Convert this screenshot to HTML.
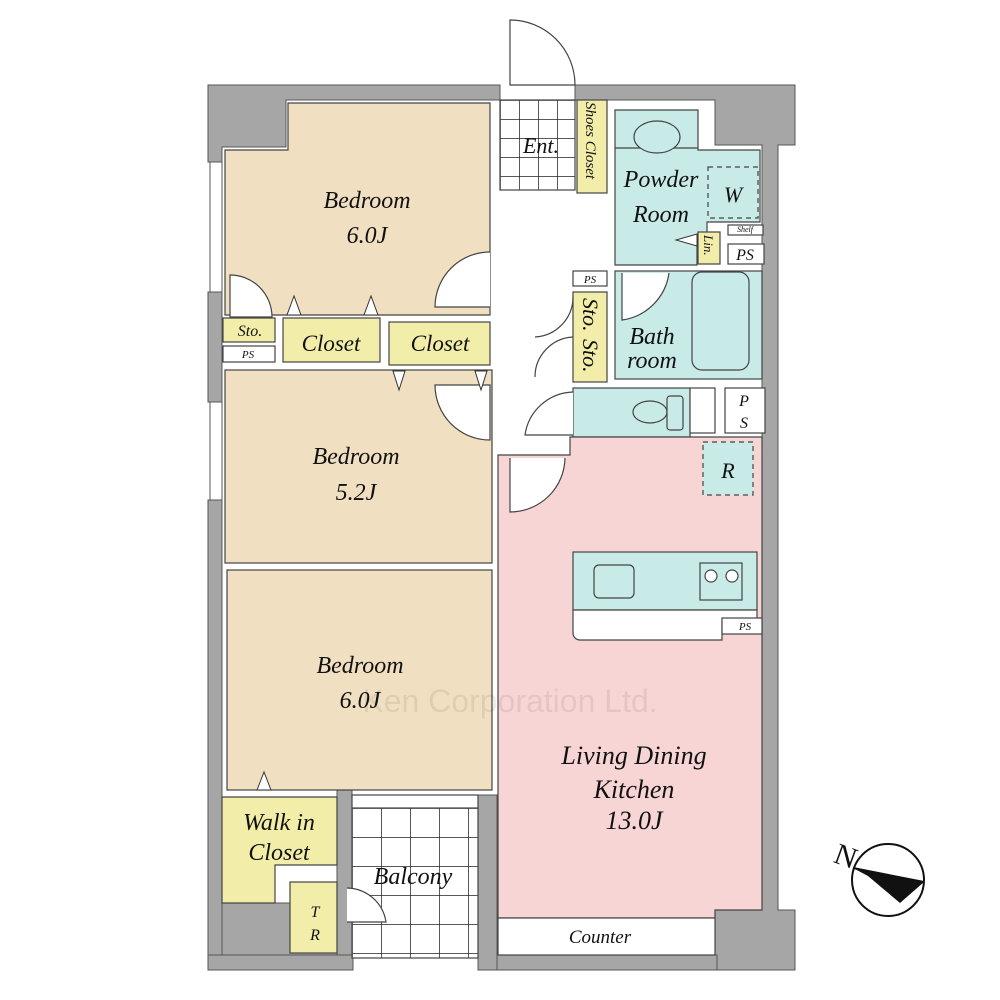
<!DOCTYPE html>
<html><head><meta charset="utf-8"><style>
html,body{margin:0;padding:0;background:#fff;}
svg{display:block}
text{font-family:"Liberation Serif",serif;font-style:italic;fill:#111;}
</style></head><body>
<svg width="1000" height="1000" viewBox="0 0 1000 1000" xmlns="http://www.w3.org/2000/svg">
<defs>
<pattern id="grid" width="29" height="29" patternUnits="userSpaceOnUse" x="352" y="808">
<rect width="29" height="29" fill="#fff"/><path d="M0 0H29M0 0V29" stroke="#222" stroke-width="1.5"/></pattern>
<pattern id="grid2" width="19" height="19" patternUnits="userSpaceOnUse" x="500" y="100">
<rect width="19" height="19" fill="#fff"/><path d="M0 0H19M0 0V19" stroke="#222" stroke-width="1.5"/></pattern>
</defs>
<g stroke="#555" stroke-width="1">
<path d="M208 85H500V100H286V147H222V162H208Z" fill="#a6a6a6"/>
<path d="M575 85H795V145H778V910H795V970H715V955H715V910H762V145H715V100H575Z" fill="#a6a6a6"/>
<rect x="208" y="292" width="14" height="110" fill="#a6a6a6"/>
<rect x="208" y="500" width="14" height="470" fill="#a6a6a6"/>
<rect x="208" y="955" width="145" height="15" fill="#a6a6a6"/>
<rect x="337" y="790" width="15" height="165" fill="#a6a6a6"/>
<rect x="222" y="903" width="115" height="52" fill="#a6a6a6"/>
<rect x="478" y="795" width="19" height="175" fill="#a6a6a6"/>
<rect x="497" y="955" width="220" height="15" fill="#a6a6a6"/>
<rect x="210" y="162" width="12" height="130" fill="#fff"/>
<rect x="210" y="402" width="12" height="98" fill="#fff"/>
</g>
<g stroke="#444" stroke-width="1.2">
<path d="M288 103H490V315H225V150H288Z" fill="#f1dfc1"/>
<rect x="225" y="370" width="267" height="193" fill="#f1dfc1"/>
<rect x="227" y="570" width="265" height="220" fill="#f1dfc1"/>
<rect x="223" y="318" width="52" height="24" fill="#f2eeaa"/>
<rect x="223" y="346" width="52" height="16" fill="#fff"/>
<rect x="283" y="318" width="97" height="44" fill="#f2eeaa"/>
<rect x="389" y="322" width="101" height="43" fill="#f2eeaa"/>
<path d="M222 797H337V865H275V903H222Z" fill="#f2eeaa"/>
<rect x="290" y="882" width="47" height="71" fill="#f2eeaa"/>
<rect x="352" y="808" width="126" height="150" fill="url(#grid)"/>
<rect x="352" y="795" width="126" height="13" fill="#fff"/>
<rect x="500" y="100" width="75" height="90" fill="url(#grid2)"/>
<rect x="577" y="100" width="30" height="93" fill="#f2eeaa"/>
<path d="M615 110H698V150H760V218H760V222H707V238H697V265H615Z" fill="#c9ebe8"/>
<path d="M615 148H698" fill="none"/>
<ellipse cx="657" cy="137" rx="23" ry="16" fill="#c9ebe8"/>
<rect x="708" y="167" width="50" height="51" fill="none" stroke-dasharray="5 4"/>
<rect x="728" y="225" width="35" height="10" fill="#fff"/>
<rect x="698" y="232" width="22" height="32" fill="#f2eeaa"/>
<rect x="728" y="244" width="36" height="20" fill="#fff"/>
<rect x="615" y="271" width="147" height="108" fill="#c9ebe8"/>
<rect x="692" y="272" width="57" height="98" rx="10" fill="#c9ebe8"/>
<path d="M622 273V320A55 55 0 0 0 669 273" fill="#fff"/>
<rect x="573" y="271" width="34" height="15" fill="#fff"/>
<rect x="573" y="292" width="34" height="90" fill="#f2eeaa"/>
<rect x="573" y="388" width="117" height="49" fill="#c9ebe8"/>
<ellipse cx="650" cy="412" rx="17" ry="11" fill="#c9ebe8"/>
<rect x="667" y="396" width="16" height="34" rx="3" fill="#c9ebe8"/>
<circle cx="597" cy="443" r="5" fill="#c9ebe8"/>
<rect x="690" y="388" width="25" height="45" fill="#fff"/>
<rect x="725" y="388" width="40" height="45" fill="#fff"/>
<path d="M498 455H570V437H762V910H715V918H498Z" fill="#f7d5d5"/>
<rect x="703" y="442" width="50" height="53" fill="#c9ebe8" stroke-dasharray="5 4"/>
<rect x="573" y="552" width="184" height="58" fill="#c9ebe8"/>
<path d="M573 610H757V621H722V640H580A7 7 0 0 1 573 633Z" fill="#fff"/>
<rect x="722" y="618" width="40" height="16" fill="#fff"/>
<rect x="594" y="565" width="40" height="33" rx="5" fill="#c9ebe8"/>
<rect x="700" y="563" width="42" height="37" fill="#c9ebe8"/>
<circle cx="711" cy="576" r="6" fill="#fff"/><circle cx="732" cy="576" r="6" fill="#fff"/>
<rect x="498" y="918" width="217" height="37" fill="#fff"/>
<path d="M490 252A55 55 0 0 0 435 307H490" fill="#fff"/>
<path d="M435 385A55 55 0 0 0 490 440V385Z" fill="#fff"/>
<path d="M230 275A42 42 0 0 1 272 317H230Z" fill="#fff"/>
<path d="M573 297A40 40 0 0 1 535 337" fill="none"/>
<path d="M573 337A40 40 0 0 0 535 377" fill="none"/>
<path d="M573 392A50 50 0 0 0 525 435H573" fill="#fff"/>
<path d="M510 458V512A55 55 0 0 0 565 458" fill="#fff"/>
<path d="M510 20V85H575A65 65 0 0 0 510 20Z" fill="#fff"/>
<path d="M347 888A40 40 0 0 1 386 922H347" fill="#fff"/>
</g>
<g fill="#fff" stroke="#333">
<path d="M294 296L287 315H301Z"/><path d="M371 296L364 315H378Z"/>
<path d="M399 370L393 389H405Z" transform="rotate(180 399 380)"/>
<path d="M481 370L475 389H487Z" transform="rotate(180 481 380)"/>
<path d="M264 772L257 790H271Z"/>
<path d="M676 240L697 234V246Z"/>
</g>
<g text-anchor="middle">
<text x="367" y="208" font-size="24">Bedroom</text><text x="367" y="243" font-size="24">6.0J</text>
<text x="356" y="464" font-size="24">Bedroom</text><text x="356" y="500" font-size="24">5.2J</text>
<text x="360" y="673" font-size="24">Bedroom</text><text x="360" y="708" font-size="24">6.0J</text>
<text x="250" y="336" font-size="16">Sto.</text>
<text x="248" y="358" font-size="11">PS</text>
<text x="331" y="351" font-size="23">Closet</text>
<text x="440" y="351" font-size="23">Closet</text>
<text x="279" y="830" font-size="24">Walk in</text><text x="279" y="860" font-size="24">Closet</text>
<text x="315" y="917" font-size="16">T</text><text x="315" y="940" font-size="16">R</text>
<text x="413" y="884" font-size="24">Balcony</text>
<text x="541" y="153" font-size="22">Ent.</text>
<text x="661" y="187" font-size="24">Powder</text><text x="661" y="222" font-size="24">Room</text>
<text x="733" y="202" font-size="22">W</text>
<text x="745" y="232" font-size="8">Shelf</text>
<text x="745" y="260" font-size="16">PS</text>
<text x="590" y="283" font-size="11">PS</text>
<text x="652" y="344" font-size="24">Bath</text><text x="652" y="368" font-size="24">room</text>
<text x="744" y="406" font-size="16">P</text><text x="744" y="428" font-size="16">S</text>
<text x="728" y="478" font-size="22">R</text>
<text x="745" y="630" font-size="11">PS</text>
<text x="634" y="764" font-size="26">Living Dining</text>
<text x="634" y="798" font-size="26">Kitchen</text>
<text x="634" y="829" font-size="26">13.0J</text>
<text x="600" y="943" font-size="19">Counter</text>
<text transform="translate(586 102) rotate(90)" font-size="15" text-anchor="start">Shoes Closet</text>
<text transform="translate(583 298) rotate(90)" font-size="22" text-anchor="start">Sto.</text>
<text transform="translate(583 339) rotate(90)" font-size="22" text-anchor="start">Sto.</text>
<text transform="translate(704 235) rotate(90)" font-size="13" text-anchor="start">Lin.</text>
<text x="510" y="712" font-size="32" style="font-family:'Liberation Sans',sans-serif;font-style:normal;fill:#000;opacity:0.07">Ken Corporation Ltd.</text>
</g>
<circle cx="888" cy="880" r="36" fill="#fff" stroke="#111" stroke-width="2"/>
<path d="M853 868L924 882L900 903L868 876Z" fill="#111"/>
<path d="M853 868L924 882" stroke="#111" stroke-width="2"/>
<text x="835" y="864" font-size="30" transform="rotate(20 840 855)" style="font-style:normal">N</text>
</svg>
</body></html>
